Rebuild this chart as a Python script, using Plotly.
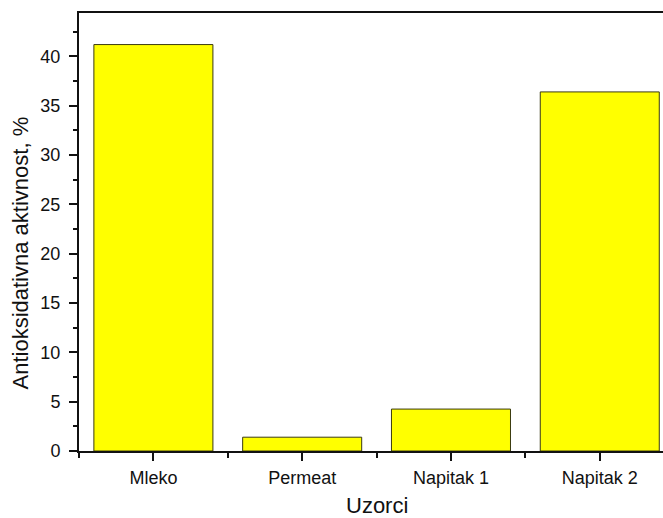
import plotly.graph_objects as go

categories = ["Mleko", "Permeat", "Napitak 1", "Napitak 2"]
values = [41.2, 1.4, 4.25, 36.4]
y_ticks = [0, 5, 10, 15, 20, 25, 30, 35, 40]
x_title = "Uzorci"
y_title = "Antioksidativna aktivnost, %"

x_pos = list(range(len(categories)))

fig = go.Figure(go.Bar(
    x=x_pos, y=values, width=0.8,
    marker=dict(color="#FFFF00", line=dict(color="#3a3a10", width=1)),
))

W, H = 663, 518
L, R, T, B = 79, 0, 13, 67
pw, ph = W - L - R, H - T - B

font = dict(family="Liberation Sans, Arial, sans-serif", color="#111")
fig.update_layout(
    width=W, height=H,
    margin=dict(l=L, r=R, t=T, b=B),
    plot_bgcolor="white", paper_bgcolor="white",
    showlegend=False,
    font=font,
    xaxis=dict(
        range=[-0.5, 3.425],
        tickvals=x_pos, ticktext=categories,
        ticks="outside", ticklen=8, tickwidth=1.5, tickcolor="#111",
        minor=dict(tick0=-0.5, dtick=1, ticks="outside", ticklen=5, tickwidth=1.5, tickcolor="#111"),
        showline=True, linewidth=2, linecolor="#111", mirror=True,
        showgrid=False, zeroline=False,
        tickfont=dict(size=18),
        ticklabelstandoff=1,
    ),
    yaxis=dict(
        range=[0, 44.4],
        tickvals=y_ticks,
        ticks="outside", ticklen=8, tickwidth=1.5, tickcolor="#111",
        minor=dict(tick0=0, dtick=2.5, ticks="outside", ticklen=4, tickwidth=1.5, tickcolor="#111"),
        showline=True, linewidth=2, linecolor="#111",
        showgrid=False, zeroline=False,
        tickfont=dict(size=18),
        ticklabelstandoff=5,
    ),
    annotations=[
        dict(text=x_title, xref="paper", yref="paper",
             x=(377 - L) / pw, y=(451 - 505) / ph, xanchor="center", yanchor="middle",
             showarrow=False, font=dict(size=22)),
        dict(text=y_title, xref="paper", yref="paper", textangle=-90,
             x=(20 - L) / pw, y=(451 - 253.5) / ph, xanchor="center", yanchor="middle",
             showarrow=False, font=dict(size=22)),
    ],
)

fig.write_html("out.html")
